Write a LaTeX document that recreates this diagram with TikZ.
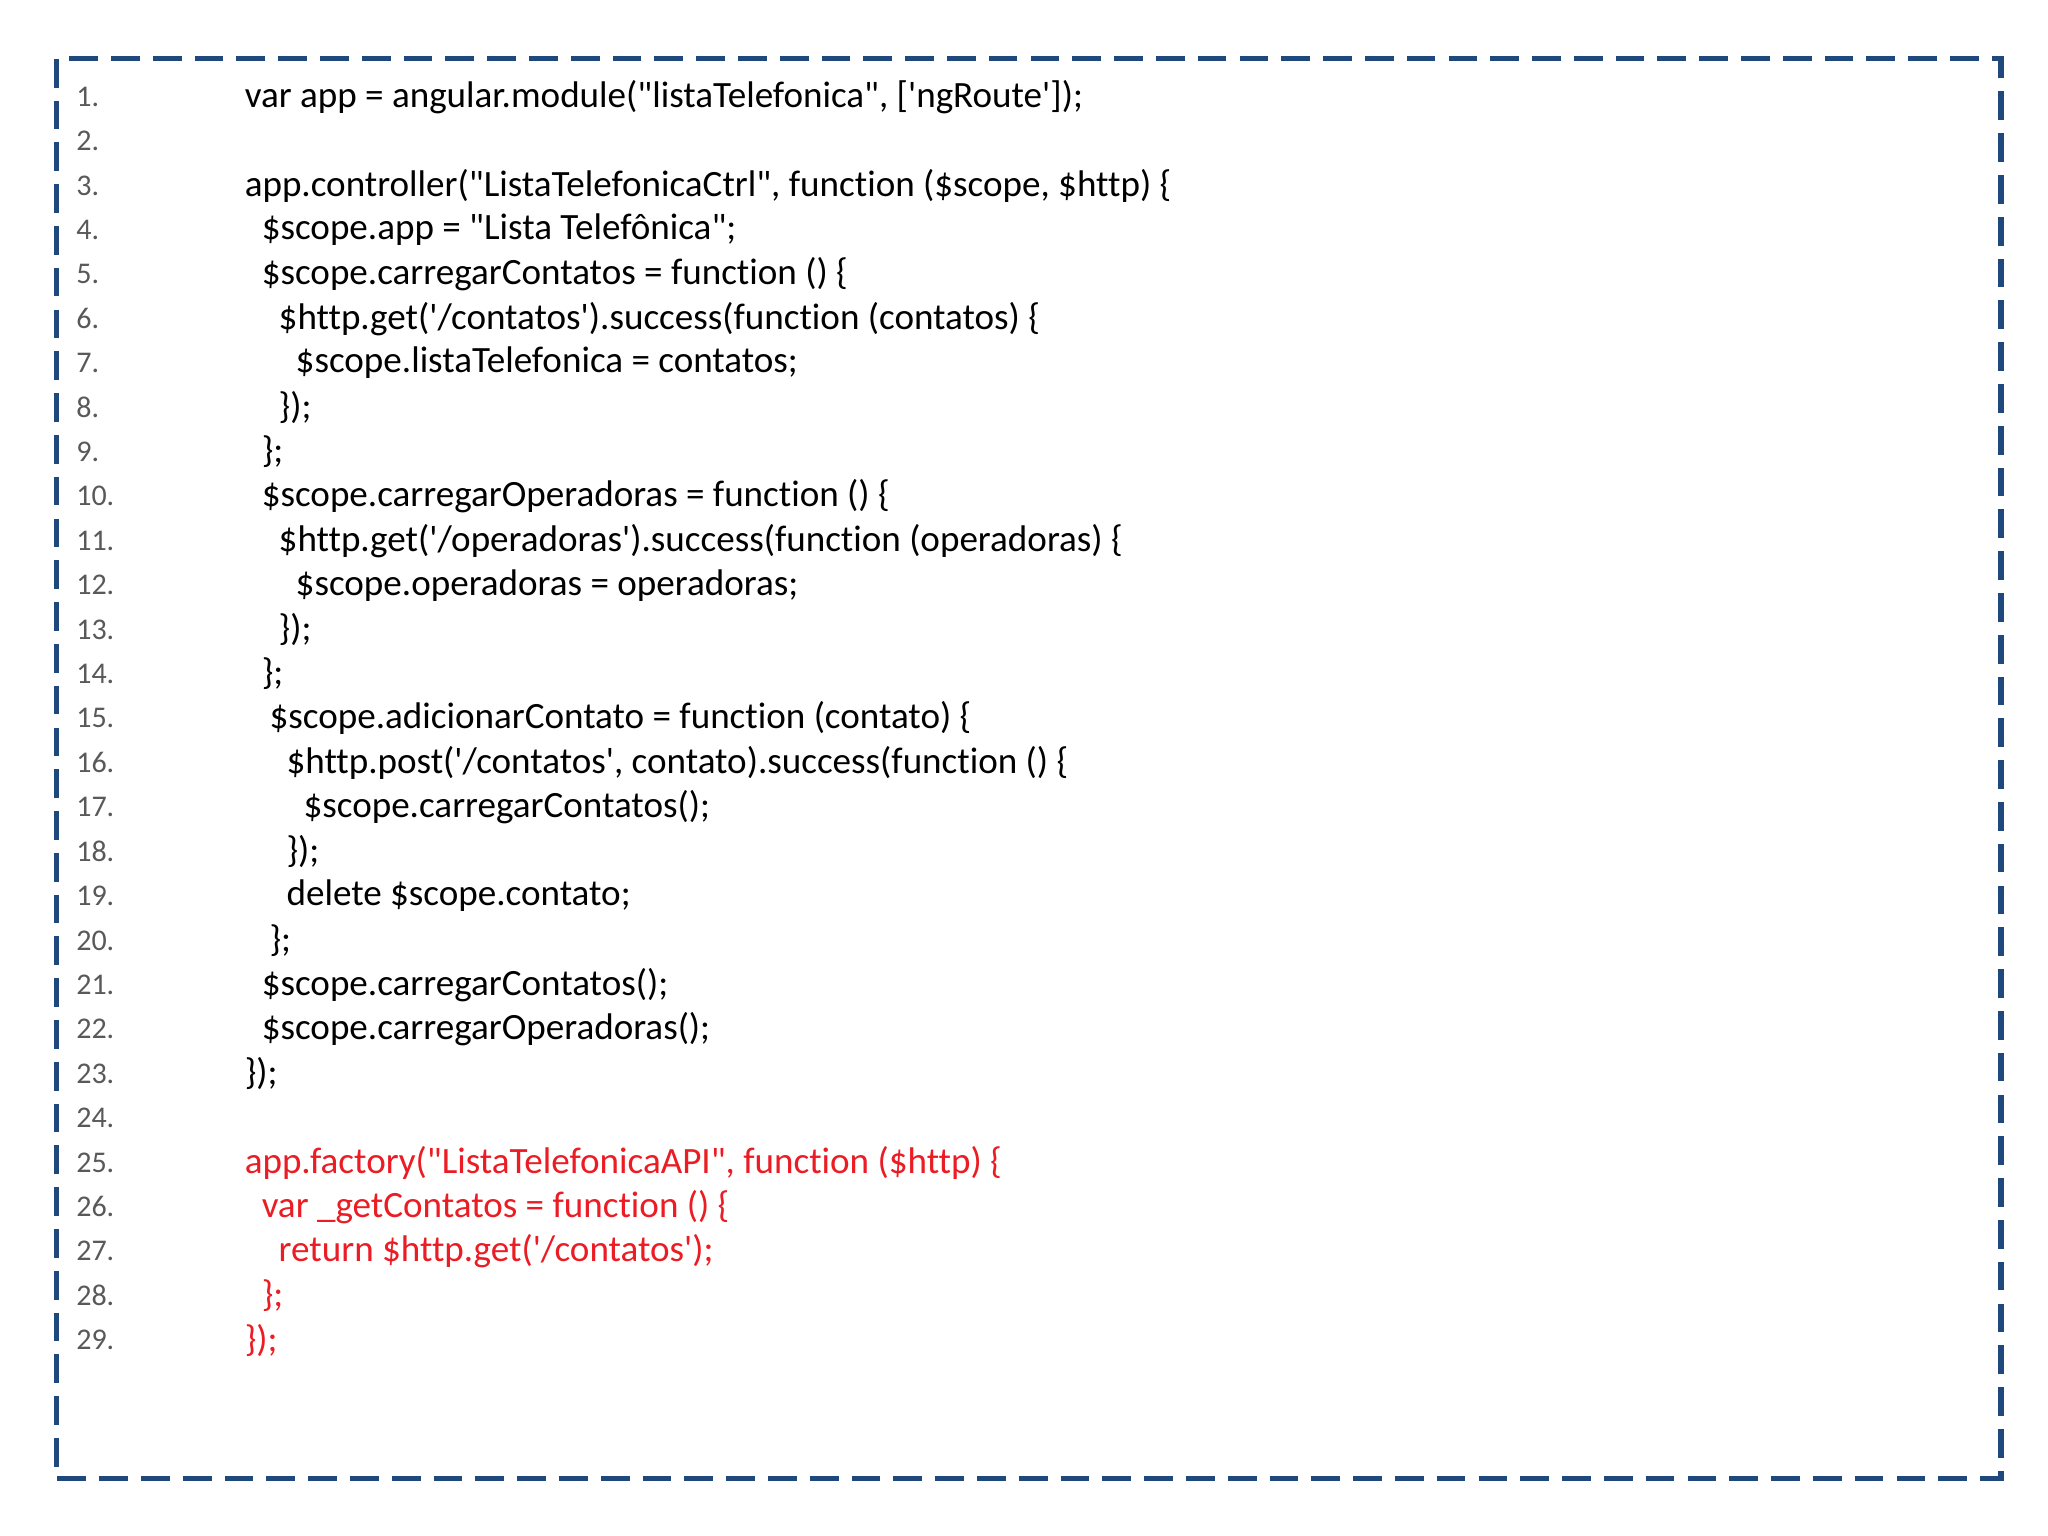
\documentclass[tikz,border=0pt]{standalone}
\usepackage{fontspec}
\newfontfamily\codefont[Ligatures={NoCommon,NoRare,NoDiscretionary}]{Carlito}
\usetikzlibrary{positioning}
\definecolor{framecol}{RGB}{31,73,125}
\definecolor{numcol}{RGB}{89,89,89}
\definecolor{redcode}{RGB}{235,28,36}
\begin{document}
\begin{tikzpicture}[x=0.5pt,y=-0.5pt,
    code/.style={anchor=west,inner sep=0pt,font=\codefont\fontsize{14.2}{16}\selectfont},
    num/.style={anchor=west,inner sep=0pt,text=numcol,font=\codefont\fontsize{11.5}{13}\selectfont},
    redline/.style={code,text=redcode}]
    \def\PITCH{34}
    \def\YONE{74}
    \def\XNUM{58}
    \useasboundingbox (0,0) rectangle (1568,1176);
    % frame
    \draw[framecol,line width=2pt,dash pattern=on 11pt off 5pt] (43,45) rectangle (1532,1132);
    % line numbers
    \foreach \i in {1,...,29}
        \node[num] (n\i) at (\XNUM,{\YONE+(\i-1)*\PITCH}) {\i.};
    % code
    \node[code] (l1) at (187,{\YONE+0*\PITCH}) {var app = angular.module("listaTelefonica", ['ngRoute']);};
    \node[code] (l3) at (187,{\YONE+2*\PITCH}) {app.controller("ListaTelefonicaCtrl", function (\$scope, \$http) \{};
    \node[code] (l4) at (200,{\YONE+3*\PITCH}) {\$scope.app = "Lista Telefônica";};
    \node[code] (l5) at (200,{\YONE+4*\PITCH}) {\$scope.carregarContatos = function () \{};
    \node[code] (l6) at (213,{\YONE+5*\PITCH}) {\$http.get('/contatos').success(function (contatos) \{};
    \node[code] (l7) at (226,{\YONE+6*\PITCH}) {\$scope.listaTelefonica = contatos;};
    \node[code] (l8) at (213,{\YONE+7*\PITCH}) {\});};
    \node[code] (l9) at (200,{\YONE+8*\PITCH}) {\};};
    \node[code] (l10) at (200,{\YONE+9*\PITCH}) {\$scope.carregarOperadoras = function () \{};
    \node[code] (l11) at (213,{\YONE+10*\PITCH}) {\$http.get('/operadoras').success(function (operadoras) \{};
    \node[code] (l12) at (226,{\YONE+11*\PITCH}) {\$scope.operadoras = operadoras;};
    \node[code] (l13) at (213,{\YONE+12*\PITCH}) {\});};
    \node[code] (l14) at (200,{\YONE+13*\PITCH}) {\};};
    \node[code] (l15) at (206,{\YONE+14*\PITCH}) {\$scope.adicionarContato = function (contato) \{};
    \node[code] (l16) at (219,{\YONE+15*\PITCH}) {\$http.post('/contatos', contato).success(function () \{};
    \node[code] (l17) at (232,{\YONE+16*\PITCH}) {\$scope.carregarContatos();};
    \node[code] (l18) at (219,{\YONE+17*\PITCH}) {\});};
    \node[code] (l19) at (219,{\YONE+18*\PITCH}) {delete \$scope.contato;};
    \node[code] (l20) at (206,{\YONE+19*\PITCH}) {\};};
    \node[code] (l21) at (200,{\YONE+20*\PITCH}) {\$scope.carregarContatos();};
    \node[code] (l22) at (200,{\YONE+21*\PITCH}) {\$scope.carregarOperadoras();};
    \node[code] (l23) at (187,{\YONE+22*\PITCH}) {\});};
    % factory (red)
    \node[redline] (l25) at (187,{\YONE+24*\PITCH}) {app.factory("ListaTelefonicaAPI", function (\$http) \{};
    \node[redline] (l26) at (200,{\YONE+25*\PITCH}) {var \_getContatos = function () \{};
    \node[redline] (l27) at (213,{\YONE+26*\PITCH}) {return \$http.get('/contatos');};
    \node[redline] (l28) at (200,{\YONE+27*\PITCH}) {\};};
    \node[redline] (l29) at (187,{\YONE+28*\PITCH}) {\});};
\end{tikzpicture}
\end{document}
